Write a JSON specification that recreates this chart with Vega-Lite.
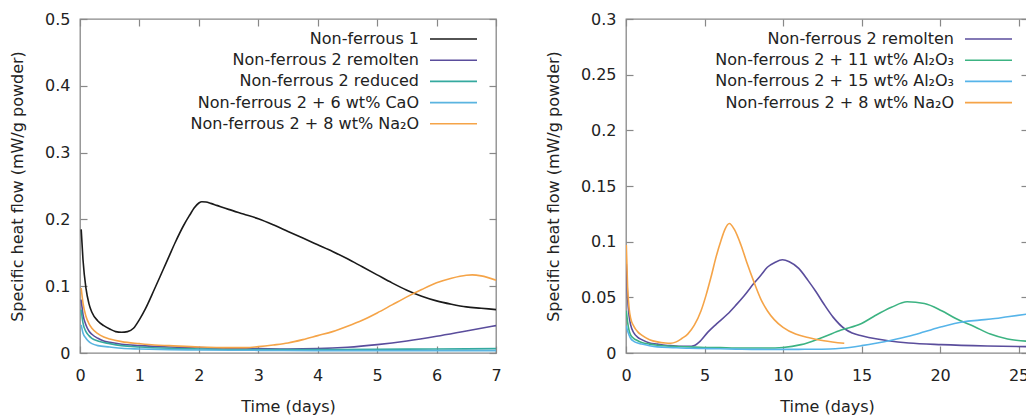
{
 "$schema": "https://vega.github.io/schema/vega-lite/v6.json",
 "padding": {"left": 8, "top": 10, "right": 0, "bottom": 0},
 "background": "white",
 "bounds": "flush",
 "spacing": 130,
 "config": {
  "font": "DejaVu Sans",
  "view": {"stroke": "#888888", "strokeWidth": 1.3},
  "axis": {"grid": false, "domain": false, "labelFlush": false, "tickColor": "#888888", "tickSize": -7, "tickWidth": 1.2, "labelPadding": 17, "labelFontSize": 16, "labelColor": "#222222", "titleFontSize": 16, "titleFontWeight": "normal", "titleColor": "#222222"},
  "axisY": {"titlePadding": 19},
  "axisX": {"titlePadding": 15, "labelPadding": 21},
  "legend": {"symbolType": "M-1,0H3.947", "symbolSize": 361, "symbolStrokeWidth": 1.6, "labelFontSize": 16, "labelColor": "#222222", "labelAlign": "right", "labelOffset": -31, "rowPadding": 2.2, "padding": 0, "labelLimit": 400}
 },
 "resolve": {"scale": {"color": "independent"}, "legend": {"color": "independent"}},
 "datasets": {
  "left": [
   {"s":"Non-ferrous 1","d":0.02,"v":0.185},{"s":"Non-ferrous 1","d":0.05,"v":0.14},{"s":"Non-ferrous 1","d":0.1,"v":0.097},{"s":"Non-ferrous 1","d":0.15,"v":0.074},{"s":"Non-ferrous 1","d":0.2,"v":0.061},{"s":"Non-ferrous 1","d":0.3,"v":0.048},{"s":"Non-ferrous 1","d":0.4,"v":0.041},{"s":"Non-ferrous 1","d":0.5,"v":0.036},{"s":"Non-ferrous 1","d":0.6,"v":0.032},{"s":"Non-ferrous 1","d":0.7,"v":0.031},{"s":"Non-ferrous 1","d":0.8,"v":0.032},{"s":"Non-ferrous 1","d":0.9,"v":0.037},{"s":"Non-ferrous 1","d":1.0,"v":0.05},{"s":"Non-ferrous 1","d":1.1,"v":0.066},{"s":"Non-ferrous 1","d":1.25,"v":0.095},{"s":"Non-ferrous 1","d":1.4,"v":0.125},{"s":"Non-ferrous 1","d":1.5,"v":0.145},{"s":"Non-ferrous 1","d":1.6,"v":0.165},{"s":"Non-ferrous 1","d":1.75,"v":0.192},{"s":"Non-ferrous 1","d":1.85,"v":0.207},{"s":"Non-ferrous 1","d":1.92,"v":0.217},{"s":"Non-ferrous 1","d":2.0,"v":0.2245},{"s":"Non-ferrous 1","d":2.05,"v":0.2265},{"s":"Non-ferrous 1","d":2.12,"v":0.226},{"s":"Non-ferrous 1","d":2.2,"v":0.224},{"s":"Non-ferrous 1","d":2.3,"v":0.221},{"s":"Non-ferrous 1","d":2.5,"v":0.215},{"s":"Non-ferrous 1","d":2.75,"v":0.208},{"s":"Non-ferrous 1","d":3.0,"v":0.201},{"s":"Non-ferrous 1","d":3.25,"v":0.192},{"s":"Non-ferrous 1","d":3.5,"v":0.182},{"s":"Non-ferrous 1","d":3.75,"v":0.172},{"s":"Non-ferrous 1","d":4.0,"v":0.162},{"s":"Non-ferrous 1","d":4.25,"v":0.152},{"s":"Non-ferrous 1","d":4.5,"v":0.141},{"s":"Non-ferrous 1","d":4.75,"v":0.129},{"s":"Non-ferrous 1","d":5.0,"v":0.117},{"s":"Non-ferrous 1","d":5.25,"v":0.105},{"s":"Non-ferrous 1","d":5.5,"v":0.094},{"s":"Non-ferrous 1","d":5.75,"v":0.085},{"s":"Non-ferrous 1","d":6.0,"v":0.078},{"s":"Non-ferrous 1","d":6.25,"v":0.073},{"s":"Non-ferrous 1","d":6.5,"v":0.069},{"s":"Non-ferrous 1","d":6.75,"v":0.067},{"s":"Non-ferrous 1","d":7.0,"v":0.065},
   {"s":"Non-ferrous 2 remolten","d":0.02,"v":0.08},{"s":"Non-ferrous 2 remolten","d":0.05,"v":0.058},{"s":"Non-ferrous 2 remolten","d":0.1,"v":0.042},{"s":"Non-ferrous 2 remolten","d":0.15,"v":0.033},{"s":"Non-ferrous 2 remolten","d":0.2,"v":0.028},{"s":"Non-ferrous 2 remolten","d":0.3,"v":0.022},{"s":"Non-ferrous 2 remolten","d":0.4,"v":0.018},{"s":"Non-ferrous 2 remolten","d":0.5,"v":0.016},{"s":"Non-ferrous 2 remolten","d":0.7,"v":0.013},{"s":"Non-ferrous 2 remolten","d":1.0,"v":0.011},{"s":"Non-ferrous 2 remolten","d":1.5,"v":0.009},{"s":"Non-ferrous 2 remolten","d":2.0,"v":0.008},{"s":"Non-ferrous 2 remolten","d":2.5,"v":0.007},{"s":"Non-ferrous 2 remolten","d":3.0,"v":0.0065},{"s":"Non-ferrous 2 remolten","d":3.5,"v":0.006},{"s":"Non-ferrous 2 remolten","d":4.0,"v":0.0065},{"s":"Non-ferrous 2 remolten","d":4.5,"v":0.0085},{"s":"Non-ferrous 2 remolten","d":5.0,"v":0.0125},{"s":"Non-ferrous 2 remolten","d":5.5,"v":0.018},{"s":"Non-ferrous 2 remolten","d":6.0,"v":0.025},{"s":"Non-ferrous 2 remolten","d":6.5,"v":0.033},{"s":"Non-ferrous 2 remolten","d":7.0,"v":0.041},
   {"s":"Non-ferrous 2 reduced","d":0.02,"v":0.065},{"s":"Non-ferrous 2 reduced","d":0.05,"v":0.045},{"s":"Non-ferrous 2 reduced","d":0.1,"v":0.032},{"s":"Non-ferrous 2 reduced","d":0.15,"v":0.026},{"s":"Non-ferrous 2 reduced","d":0.2,"v":0.022},{"s":"Non-ferrous 2 reduced","d":0.3,"v":0.018},{"s":"Non-ferrous 2 reduced","d":0.5,"v":0.014},{"s":"Non-ferrous 2 reduced","d":0.7,"v":0.011},{"s":"Non-ferrous 2 reduced","d":1.0,"v":0.009},{"s":"Non-ferrous 2 reduced","d":1.5,"v":0.007},{"s":"Non-ferrous 2 reduced","d":2.0,"v":0.006},{"s":"Non-ferrous 2 reduced","d":3.0,"v":0.005},{"s":"Non-ferrous 2 reduced","d":4.0,"v":0.005},{"s":"Non-ferrous 2 reduced","d":5.0,"v":0.0055},{"s":"Non-ferrous 2 reduced","d":6.0,"v":0.006},{"s":"Non-ferrous 2 reduced","d":7.0,"v":0.0065},
   {"s":"Non-ferrous 2 + 6 wt% CaO","d":0.02,"v":0.042},{"s":"Non-ferrous 2 + 6 wt% CaO","d":0.05,"v":0.03},{"s":"Non-ferrous 2 + 6 wt% CaO","d":0.1,"v":0.022},{"s":"Non-ferrous 2 + 6 wt% CaO","d":0.15,"v":0.017},{"s":"Non-ferrous 2 + 6 wt% CaO","d":0.2,"v":0.014},{"s":"Non-ferrous 2 + 6 wt% CaO","d":0.3,"v":0.011},{"s":"Non-ferrous 2 + 6 wt% CaO","d":0.5,"v":0.009},{"s":"Non-ferrous 2 + 6 wt% CaO","d":0.7,"v":0.007},{"s":"Non-ferrous 2 + 6 wt% CaO","d":1.0,"v":0.006},{"s":"Non-ferrous 2 + 6 wt% CaO","d":1.5,"v":0.005},{"s":"Non-ferrous 2 + 6 wt% CaO","d":2.0,"v":0.0045},{"s":"Non-ferrous 2 + 6 wt% CaO","d":3.0,"v":0.004},{"s":"Non-ferrous 2 + 6 wt% CaO","d":4.0,"v":0.0035},{"s":"Non-ferrous 2 + 6 wt% CaO","d":5.0,"v":0.0035},{"s":"Non-ferrous 2 + 6 wt% CaO","d":6.0,"v":0.0035},{"s":"Non-ferrous 2 + 6 wt% CaO","d":7.0,"v":0.0035},
   {"s":"Non-ferrous 2 + 8 wt% Na₂O","d":0.02,"v":0.097},{"s":"Non-ferrous 2 + 8 wt% Na₂O","d":0.05,"v":0.075},{"s":"Non-ferrous 2 + 8 wt% Na₂O","d":0.1,"v":0.055},{"s":"Non-ferrous 2 + 8 wt% Na₂O","d":0.15,"v":0.044},{"s":"Non-ferrous 2 + 8 wt% Na₂O","d":0.2,"v":0.037},{"s":"Non-ferrous 2 + 8 wt% Na₂O","d":0.3,"v":0.029},{"s":"Non-ferrous 2 + 8 wt% Na₂O","d":0.4,"v":0.024},{"s":"Non-ferrous 2 + 8 wt% Na₂O","d":0.5,"v":0.021},{"s":"Non-ferrous 2 + 8 wt% Na₂O","d":0.7,"v":0.017},{"s":"Non-ferrous 2 + 8 wt% Na₂O","d":1.0,"v":0.014},{"s":"Non-ferrous 2 + 8 wt% Na₂O","d":1.25,"v":0.012},{"s":"Non-ferrous 2 + 8 wt% Na₂O","d":1.5,"v":0.011},{"s":"Non-ferrous 2 + 8 wt% Na₂O","d":2.0,"v":0.009},{"s":"Non-ferrous 2 + 8 wt% Na₂O","d":2.5,"v":0.008},{"s":"Non-ferrous 2 + 8 wt% Na₂O","d":2.8,"v":0.008},{"s":"Non-ferrous 2 + 8 wt% Na₂O","d":3.0,"v":0.0095},{"s":"Non-ferrous 2 + 8 wt% Na₂O","d":3.25,"v":0.012},{"s":"Non-ferrous 2 + 8 wt% Na₂O","d":3.5,"v":0.015},{"s":"Non-ferrous 2 + 8 wt% Na₂O","d":3.75,"v":0.02},{"s":"Non-ferrous 2 + 8 wt% Na₂O","d":4.0,"v":0.026},{"s":"Non-ferrous 2 + 8 wt% Na₂O","d":4.25,"v":0.032},{"s":"Non-ferrous 2 + 8 wt% Na₂O","d":4.5,"v":0.04},{"s":"Non-ferrous 2 + 8 wt% Na₂O","d":4.75,"v":0.049},{"s":"Non-ferrous 2 + 8 wt% Na₂O","d":5.0,"v":0.06},{"s":"Non-ferrous 2 + 8 wt% Na₂O","d":5.25,"v":0.072},{"s":"Non-ferrous 2 + 8 wt% Na₂O","d":5.5,"v":0.084},{"s":"Non-ferrous 2 + 8 wt% Na₂O","d":5.75,"v":0.095},{"s":"Non-ferrous 2 + 8 wt% Na₂O","d":6.0,"v":0.105},{"s":"Non-ferrous 2 + 8 wt% Na₂O","d":6.25,"v":0.112},{"s":"Non-ferrous 2 + 8 wt% Na₂O","d":6.5,"v":0.1165},{"s":"Non-ferrous 2 + 8 wt% Na₂O","d":6.6,"v":0.117},{"s":"Non-ferrous 2 + 8 wt% Na₂O","d":6.75,"v":0.1155},{"s":"Non-ferrous 2 + 8 wt% Na₂O","d":7.0,"v":0.109}
  ],
  "right": [
   {"s":"Non-ferrous 2 remolten","d":0.02,"v":0.08},{"s":"Non-ferrous 2 remolten","d":0.1,"v":0.05},{"s":"Non-ferrous 2 remolten","d":0.2,"v":0.033},{"s":"Non-ferrous 2 remolten","d":0.3,"v":0.025},{"s":"Non-ferrous 2 remolten","d":0.5,"v":0.018},{"s":"Non-ferrous 2 remolten","d":0.75,"v":0.014},{"s":"Non-ferrous 2 remolten","d":1.0,"v":0.012},{"s":"Non-ferrous 2 remolten","d":1.5,"v":0.009},{"s":"Non-ferrous 2 remolten","d":2.0,"v":0.008},{"s":"Non-ferrous 2 remolten","d":2.5,"v":0.007},{"s":"Non-ferrous 2 remolten","d":3.0,"v":0.0065},{"s":"Non-ferrous 2 remolten","d":3.5,"v":0.006},{"s":"Non-ferrous 2 remolten","d":4.0,"v":0.006},{"s":"Non-ferrous 2 remolten","d":4.35,"v":0.0068},{"s":"Non-ferrous 2 remolten","d":4.75,"v":0.011},{"s":"Non-ferrous 2 remolten","d":5.2,"v":0.0185},{"s":"Non-ferrous 2 remolten","d":5.75,"v":0.026},{"s":"Non-ferrous 2 remolten","d":6.47,"v":0.035},{"s":"Non-ferrous 2 remolten","d":7.0,"v":0.043},{"s":"Non-ferrous 2 remolten","d":7.5,"v":0.051},{"s":"Non-ferrous 2 remolten","d":8.17,"v":0.063},{"s":"Non-ferrous 2 remolten","d":8.6,"v":0.07},{"s":"Non-ferrous 2 remolten","d":9.0,"v":0.077},{"s":"Non-ferrous 2 remolten","d":9.5,"v":0.0815},{"s":"Non-ferrous 2 remolten","d":9.96,"v":0.0837},{"s":"Non-ferrous 2 remolten","d":10.4,"v":0.082},{"s":"Non-ferrous 2 remolten","d":11.0,"v":0.076},{"s":"Non-ferrous 2 remolten","d":11.6,"v":0.065},{"s":"Non-ferrous 2 remolten","d":12.1,"v":0.055},{"s":"Non-ferrous 2 remolten","d":12.6,"v":0.044},{"s":"Non-ferrous 2 remolten","d":13.2,"v":0.032},{"s":"Non-ferrous 2 remolten","d":13.9,"v":0.022},{"s":"Non-ferrous 2 remolten","d":14.4,"v":0.018},{"s":"Non-ferrous 2 remolten","d":15.0,"v":0.0155},{"s":"Non-ferrous 2 remolten","d":16.0,"v":0.0125},{"s":"Non-ferrous 2 remolten","d":16.7,"v":0.011},{"s":"Non-ferrous 2 remolten","d":18.0,"v":0.009},{"s":"Non-ferrous 2 remolten","d":20.1,"v":0.0075},{"s":"Non-ferrous 2 remolten","d":23.0,"v":0.0063},{"s":"Non-ferrous 2 remolten","d":25.6,"v":0.0057},
   {"s":"Non-ferrous 2 + 11 wt% Al₂O₃","d":0.02,"v":0.038},{"s":"Non-ferrous 2 + 11 wt% Al₂O₃","d":0.1,"v":0.028},{"s":"Non-ferrous 2 + 11 wt% Al₂O₃","d":0.2,"v":0.02},{"s":"Non-ferrous 2 + 11 wt% Al₂O₃","d":0.3,"v":0.016},{"s":"Non-ferrous 2 + 11 wt% Al₂O₃","d":0.5,"v":0.013},{"s":"Non-ferrous 2 + 11 wt% Al₂O₃","d":0.75,"v":0.011},{"s":"Non-ferrous 2 + 11 wt% Al₂O₃","d":1.0,"v":0.0095},{"s":"Non-ferrous 2 + 11 wt% Al₂O₃","d":1.5,"v":0.008},{"s":"Non-ferrous 2 + 11 wt% Al₂O₃","d":2.0,"v":0.007},{"s":"Non-ferrous 2 + 11 wt% Al₂O₃","d":3.0,"v":0.006},{"s":"Non-ferrous 2 + 11 wt% Al₂O₃","d":4.0,"v":0.0055},{"s":"Non-ferrous 2 + 11 wt% Al₂O₃","d":5.0,"v":0.005},{"s":"Non-ferrous 2 + 11 wt% Al₂O₃","d":6.0,"v":0.0048},{"s":"Non-ferrous 2 + 11 wt% Al₂O₃","d":7.0,"v":0.0045},{"s":"Non-ferrous 2 + 11 wt% Al₂O₃","d":8.0,"v":0.0045},{"s":"Non-ferrous 2 + 11 wt% Al₂O₃","d":9.0,"v":0.0045},{"s":"Non-ferrous 2 + 11 wt% Al₂O₃","d":10.0,"v":0.005},{"s":"Non-ferrous 2 + 11 wt% Al₂O₃","d":11.15,"v":0.0075},{"s":"Non-ferrous 2 + 11 wt% Al₂O₃","d":12.5,"v":0.014},{"s":"Non-ferrous 2 + 11 wt% Al₂O₃","d":13.7,"v":0.0206},{"s":"Non-ferrous 2 + 11 wt% Al₂O₃","d":15.0,"v":0.0265},{"s":"Non-ferrous 2 + 11 wt% Al₂O₃","d":15.8,"v":0.033},{"s":"Non-ferrous 2 + 11 wt% Al₂O₃","d":16.9,"v":0.041},{"s":"Non-ferrous 2 + 11 wt% Al₂O₃","d":17.9,"v":0.046},{"s":"Non-ferrous 2 + 11 wt% Al₂O₃","d":19.0,"v":0.0445},{"s":"Non-ferrous 2 + 11 wt% Al₂O₃","d":20.1,"v":0.038},{"s":"Non-ferrous 2 + 11 wt% Al₂O₃","d":21.0,"v":0.031},{"s":"Non-ferrous 2 + 11 wt% Al₂O₃","d":22.2,"v":0.0236},{"s":"Non-ferrous 2 + 11 wt% Al₂O₃","d":23.2,"v":0.017},{"s":"Non-ferrous 2 + 11 wt% Al₂O₃","d":24.3,"v":0.0126},{"s":"Non-ferrous 2 + 11 wt% Al₂O₃","d":25.6,"v":0.0105},
   {"s":"Non-ferrous 2 + 15 wt% Al₂O₃","d":0.02,"v":0.0245},{"s":"Non-ferrous 2 + 15 wt% Al₂O₃","d":0.1,"v":0.02},{"s":"Non-ferrous 2 + 15 wt% Al₂O₃","d":0.2,"v":0.016},{"s":"Non-ferrous 2 + 15 wt% Al₂O₃","d":0.3,"v":0.013},{"s":"Non-ferrous 2 + 15 wt% Al₂O₃","d":0.5,"v":0.0105},{"s":"Non-ferrous 2 + 15 wt% Al₂O₃","d":0.75,"v":0.009},{"s":"Non-ferrous 2 + 15 wt% Al₂O₃","d":1.0,"v":0.008},{"s":"Non-ferrous 2 + 15 wt% Al₂O₃","d":1.5,"v":0.0065},{"s":"Non-ferrous 2 + 15 wt% Al₂O₃","d":2.0,"v":0.0055},{"s":"Non-ferrous 2 + 15 wt% Al₂O₃","d":3.0,"v":0.0048},{"s":"Non-ferrous 2 + 15 wt% Al₂O₃","d":4.0,"v":0.0042},{"s":"Non-ferrous 2 + 15 wt% Al₂O₃","d":5.0,"v":0.004},{"s":"Non-ferrous 2 + 15 wt% Al₂O₃","d":6.0,"v":0.0038},{"s":"Non-ferrous 2 + 15 wt% Al₂O₃","d":7.0,"v":0.0035},{"s":"Non-ferrous 2 + 15 wt% Al₂O₃","d":8.0,"v":0.0033},{"s":"Non-ferrous 2 + 15 wt% Al₂O₃","d":9.0,"v":0.0032},{"s":"Non-ferrous 2 + 15 wt% Al₂O₃","d":10.0,"v":0.0033},{"s":"Non-ferrous 2 + 15 wt% Al₂O₃","d":11.0,"v":0.0033},{"s":"Non-ferrous 2 + 15 wt% Al₂O₃","d":12.0,"v":0.0034},{"s":"Non-ferrous 2 + 15 wt% Al₂O₃","d":13.0,"v":0.0036},{"s":"Non-ferrous 2 + 15 wt% Al₂O₃","d":13.7,"v":0.0042},{"s":"Non-ferrous 2 + 15 wt% Al₂O₃","d":15.0,"v":0.0066},{"s":"Non-ferrous 2 + 15 wt% Al₂O₃","d":16.0,"v":0.009},{"s":"Non-ferrous 2 + 15 wt% Al₂O₃","d":16.9,"v":0.0115},{"s":"Non-ferrous 2 + 15 wt% Al₂O₃","d":18.0,"v":0.015},{"s":"Non-ferrous 2 + 15 wt% Al₂O₃","d":19.0,"v":0.019},{"s":"Non-ferrous 2 + 15 wt% Al₂O₃","d":20.1,"v":0.0235},{"s":"Non-ferrous 2 + 15 wt% Al₂O₃","d":21.5,"v":0.028},{"s":"Non-ferrous 2 + 15 wt% Al₂O₃","d":22.5,"v":0.0295},{"s":"Non-ferrous 2 + 15 wt% Al₂O₃","d":23.5,"v":0.031},{"s":"Non-ferrous 2 + 15 wt% Al₂O₃","d":24.3,"v":0.0326},{"s":"Non-ferrous 2 + 15 wt% Al₂O₃","d":25.6,"v":0.035},
   {"s":"Non-ferrous 2 + 8 wt% Na₂O","d":0.02,"v":0.097},{"s":"Non-ferrous 2 + 8 wt% Na₂O","d":0.1,"v":0.06},{"s":"Non-ferrous 2 + 8 wt% Na₂O","d":0.2,"v":0.04},{"s":"Non-ferrous 2 + 8 wt% Na₂O","d":0.3,"v":0.031},{"s":"Non-ferrous 2 + 8 wt% Na₂O","d":0.5,"v":0.024},{"s":"Non-ferrous 2 + 8 wt% Na₂O","d":0.75,"v":0.019},{"s":"Non-ferrous 2 + 8 wt% Na₂O","d":1.0,"v":0.016},{"s":"Non-ferrous 2 + 8 wt% Na₂O","d":1.5,"v":0.012},{"s":"Non-ferrous 2 + 8 wt% Na₂O","d":2.0,"v":0.01},{"s":"Non-ferrous 2 + 8 wt% Na₂O","d":2.5,"v":0.009},{"s":"Non-ferrous 2 + 8 wt% Na₂O","d":2.85,"v":0.0088},{"s":"Non-ferrous 2 + 8 wt% Na₂O","d":3.2,"v":0.01},{"s":"Non-ferrous 2 + 8 wt% Na₂O","d":3.55,"v":0.013},{"s":"Non-ferrous 2 + 8 wt% Na₂O","d":3.93,"v":0.017},{"s":"Non-ferrous 2 + 8 wt% Na₂O","d":4.35,"v":0.025},{"s":"Non-ferrous 2 + 8 wt% Na₂O","d":4.78,"v":0.038},{"s":"Non-ferrous 2 + 8 wt% Na₂O","d":5.1,"v":0.052},{"s":"Non-ferrous 2 + 8 wt% Na₂O","d":5.41,"v":0.068},{"s":"Non-ferrous 2 + 8 wt% Na₂O","d":5.75,"v":0.087},{"s":"Non-ferrous 2 + 8 wt% Na₂O","d":6.05,"v":0.101},{"s":"Non-ferrous 2 + 8 wt% Na₂O","d":6.3,"v":0.111},{"s":"Non-ferrous 2 + 8 wt% Na₂O","d":6.58,"v":0.1163},{"s":"Non-ferrous 2 + 8 wt% Na₂O","d":6.9,"v":0.111},{"s":"Non-ferrous 2 + 8 wt% Na₂O","d":7.32,"v":0.097},{"s":"Non-ferrous 2 + 8 wt% Na₂O","d":7.7,"v":0.081},{"s":"Non-ferrous 2 + 8 wt% Na₂O","d":8.17,"v":0.063},{"s":"Non-ferrous 2 + 8 wt% Na₂O","d":8.6,"v":0.048},{"s":"Non-ferrous 2 + 8 wt% Na₂O","d":9.0,"v":0.038},{"s":"Non-ferrous 2 + 8 wt% Na₂O","d":9.44,"v":0.03},{"s":"Non-ferrous 2 + 8 wt% Na₂O","d":10.0,"v":0.023},{"s":"Non-ferrous 2 + 8 wt% Na₂O","d":10.8,"v":0.017},{"s":"Non-ferrous 2 + 8 wt% Na₂O","d":11.6,"v":0.014},{"s":"Non-ferrous 2 + 8 wt% Na₂O","d":12.6,"v":0.011},{"s":"Non-ferrous 2 + 8 wt% Na₂O","d":13.9,"v":0.0087}
  ]
 },
 "hconcat": [
  {
   "width": 416, "height": 334,
   "data": {"name": "left"},
   "layer": [
    {"mark": {"type": "line", "strokeWidth": 1.6, "clip": true, "interpolate": "monotone"},
     "encoding": {
      "x": {"field": "d", "type": "quantitative", "scale": {"domain": [0, 7], "nice": false}, "axis": {"orient": "bottom", "values": [0,1,2,3,4,5,6,7], "title": "Time (days)"}},
      "y": {"field": "v", "type": "quantitative", "scale": {"domain": [0, 0.5], "nice": false}, "axis": {"orient": "left", "values": [0,0.1,0.2,0.3,0.4,0.5], "format": ".1~f", "title": "Specific heat flow (mW/g powder)"}},
      "color": {"field": "s", "type": "nominal", "scale": {"domain": ["Non-ferrous 1","Non-ferrous 2 remolten","Non-ferrous 2 reduced","Non-ferrous 2 + 6 wt% CaO","Non-ferrous 2 + 8 wt% Na₂O"], "range": ["#1a1a1a","#5a4d9c","#35a99f","#5ab4e0","#f5a448"]}, "legend": {"title": null, "orient": "none", "legendX": 349, "legendY": 9.5}}
     }},
    {"mark": {"type": "line", "strokeOpacity": 0},
     "encoding": {
      "x": {"field": "d", "type": "quantitative", "scale": {"domain": [0, 7], "nice": false}, "axis": {"orient": "top", "values": [0,1,2,3,4,5,6,7], "labels": false, "title": null}},
      "y": {"field": "v", "type": "quantitative", "scale": {"domain": [0, 0.5], "nice": false}, "axis": {"orient": "right", "values": [0,0.1,0.2,0.3,0.4,0.5], "labels": false, "title": null}}
     }}
   ],
   "resolve": {"axis": {"x": "independent", "y": "independent"}}
  },
  {
   "width": 402, "height": 334,
   "data": {"name": "right"},
   "layer": [
    {"mark": {"type": "line", "strokeWidth": 1.6, "clip": true, "interpolate": "monotone"},
     "encoding": {
      "x": {"field": "d", "type": "quantitative", "scale": {"domain": [0, 25.6], "nice": false}, "axis": {"orient": "bottom", "values": [0,5,10,15,20,25], "title": "Time (days)"}},
      "y": {"field": "v", "type": "quantitative", "scale": {"domain": [0, 0.3], "nice": false}, "axis": {"orient": "left", "values": [0,0.05,0.1,0.15,0.2,0.25,0.3], "format": ".2~f", "title": "Specific heat flow (mW/g powder)"}},
      "color": {"field": "s", "type": "nominal", "scale": {"domain": ["Non-ferrous 2 remolten","Non-ferrous 2 + 11 wt% Al₂O₃","Non-ferrous 2 + 15 wt% Al₂O₃","Non-ferrous 2 + 8 wt% Na₂O"], "range": ["#5a4d9c","#3cb382","#56b4e9","#f5a448"]}, "legend": {"title": null, "orient": "none", "legendX": 338, "legendY": 9.5}}
     }},
    {"mark": {"type": "line", "strokeOpacity": 0},
     "encoding": {
      "x": {"field": "d", "type": "quantitative", "scale": {"domain": [0, 25.6], "nice": false}, "axis": {"orient": "top", "values": [0,5,10,15,20,25], "labels": false, "title": null}},
      "y": {"field": "v", "type": "quantitative", "scale": {"domain": [0, 0.3], "nice": false}, "axis": {"orient": "right", "values": [0,0.05,0.1,0.15,0.2,0.25,0.3], "labels": false, "title": null}}
     }}
   ],
   "resolve": {"axis": {"x": "independent", "y": "independent"}}
  }
 ]
}
